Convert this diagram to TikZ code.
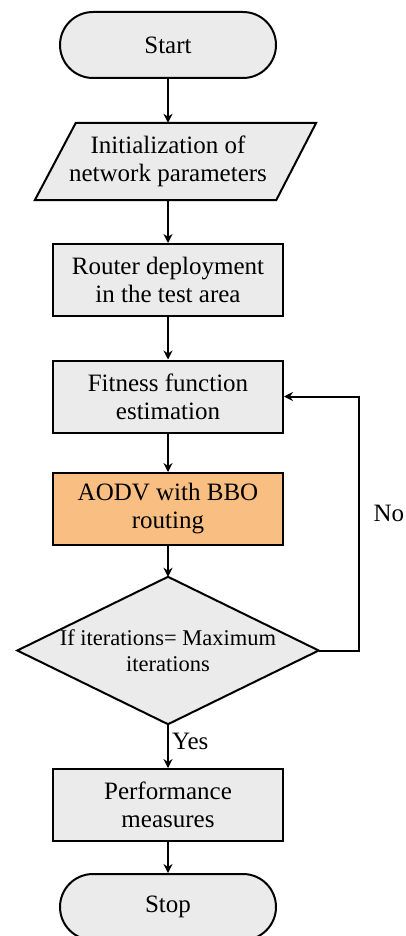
\documentclass[tikz,border=0pt]{standalone}
\usepackage{fontspec}
\setmainfont{Liberation Serif}
\usetikzlibrary{arrows.meta}
\definecolor{boxgray}{HTML}{EBEBEB}
\definecolor{boxorange}{HTML}{F9BE82}
\begin{document}
\begin{tikzpicture}[x=1pt,y=-1pt,
  txt/.style={font=\fontsize{25}{28}\selectfont, align=center},
  proc/.style={txt, draw, line width=2pt, fill=boxgray, minimum width=230pt, minimum height=72pt, inner sep=0pt},
  term/.style={txt, draw, line width=2pt, fill=boxgray, minimum width=216pt, minimum height=66pt, rounded corners=33pt, inner sep=0pt},
  shapeline/.style={draw, line width=2pt, fill=boxgray},
  arr/.style={line width=2pt, -{Stealth[length=9pt,width=9pt]}}]
\useasboundingbox (0,0) rectangle (406,936);

% Start
\node[term] (start) at (168,45) {Start};

% Parallelogram
\node[minimum width=224pt, minimum height=77pt, inner sep=0pt] (init) at (168,161.5) {};
\path[shapeline] (init.north west) ++(20,0) -- ([xshift=36pt]init.north east)
  -- ([xshift=-4pt]init.south east) -- ([xshift=-21pt]init.south west) -- cycle;
\node[txt] (inittxt) at (init.center) {Initialization of\\network parameters};

% Process boxes
\node[proc] (router) at (168,280) {Router deployment\\in the test area};
\node[proc] (fit) at (168,396.5) {Fitness function\\estimation};
\node[proc, fill=boxorange] (aodv) at (168,509) {AODV with BBO\\routing};

% Decision
\node[minimum width=301pt, minimum height=147pt, inner sep=0pt] (dec) at (168,650.5) {};
\path[shapeline] (dec.north) -- (dec.east) -- (dec.south) -- (dec.west) -- cycle;
\node[txt, font=\fontsize{22.5}{26}\selectfont] (dectxt) at (dec.center) {If iterations= Maximum\\iterations};

\node[proc] (perf) at (168,805) {Performance\\measures};
\node[term] (stop) at (168,907) {Stop};

% Connectors
\draw[arr] (start) -- (init);
\draw[arr] (init) -- (router);
\draw[arr] (router) -- (fit);
\draw[arr] (fit) -- (aodv);
\draw[arr] (aodv) -- (dec);
\draw[arr] (dec) -- node[txt, right, pos=0.4, inner sep=3pt] (yes) {Yes} (perf);
\draw[arr] (perf) -- (stop);

\coordinate (loop) at (359,396.5);
\draw[arr] (dec.east) -| (loop) -- (fit.east);
\node[txt, anchor=west] (no) at (370,513) {No};
\end{tikzpicture}
\end{document}
